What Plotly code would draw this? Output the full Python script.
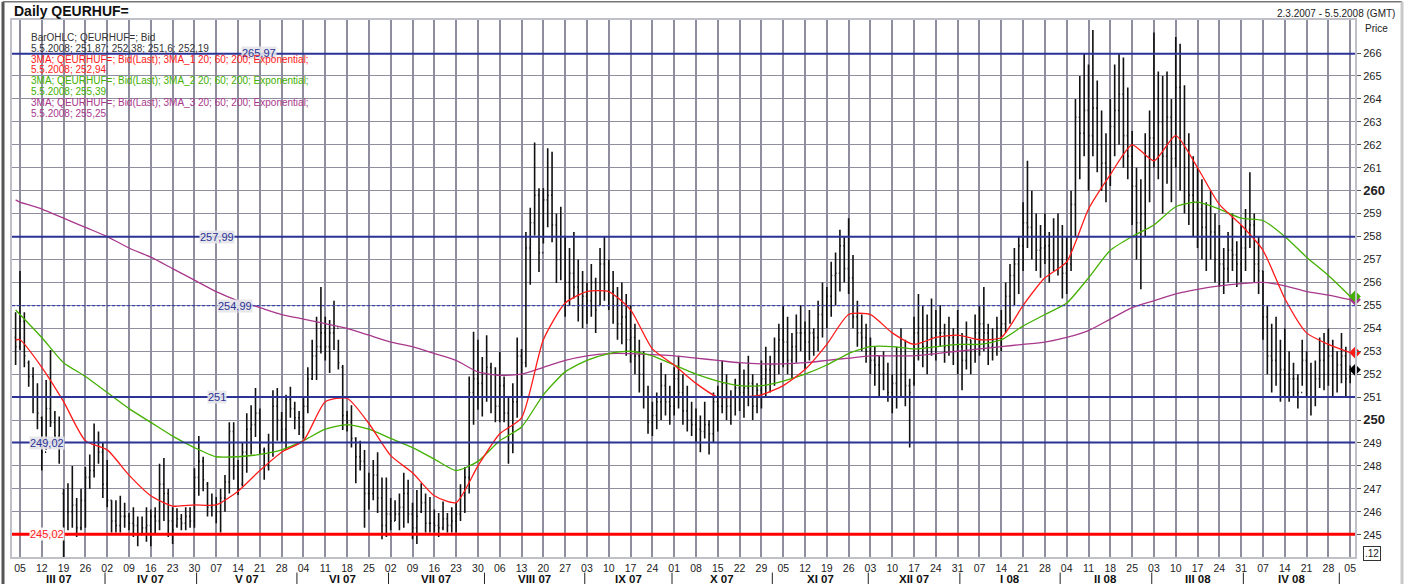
import pandas as pd
import plotly.graph_objects as go

# daily bars, 2.3.2007 - 5.5.2008 (trading days)
highs = [
    254.7, 256.5, 254.7, 252.6, 252.3, 251.6, 250.15, 251.75, 253.05, 250.4,
    250.15, 247.0, 247.25, 248.0, 246.6, 247.0, 247.95, 248.5, 249.85, 249.5,
    249.0, 248.26, 246.5, 246.5, 246.7, 246.4, 245.95, 246.2, 245.8, 245.8,
    246.2, 246.1, 246.2, 248.1, 248.35, 247.0, 246.2, 246.15, 245.9, 246.2,
    246.2, 247.9, 249.3, 248.4, 247.3, 246.8, 246.65, 247.0, 247.6, 249.9,
    249.9, 248.26, 249.0, 250.3, 250.65, 251.4, 250.5, 248.8, 249.4, 251.3,
    251.4, 250.35, 251.1, 251.45, 250.8, 250.4, 250.96, 252.3, 253.5, 254.5,
    255.8, 254.5, 254.36, 255.2, 253.5, 252.4, 250.4, 250.65, 249.25, 249.1,
    248.7, 247.7, 248.26, 248.6, 247.5, 247.5, 246.6, 246.5, 246.8, 247.7,
    247.4, 246.4, 246.95, 247.25, 246.8, 246.65, 246.1, 245.95, 246.45, 245.95,
    246.2, 246.4, 247.2, 247.95, 251.9, 253.85, 253.5, 252.75, 253.7, 252.5,
    252.3, 252.97, 251.9, 251.0, 251.6, 253.6, 253.1, 258.2, 259.25, 262.1,
    260.1, 260.1, 261.85, 261.7, 259.0, 259.3, 258.0, 257.5, 258.2, 257.0,
    256.5, 256.0, 256.8, 256.2, 257.5, 258.0, 257.0, 256.5, 255.8, 256.0,
    255.5, 255.0, 254.2, 253.5, 253.0, 251.5, 250.8, 251.2, 252.5, 252.0,
    251.5, 252.3, 252.8, 252.0, 251.5, 250.8, 250.5, 250.2, 250.8, 250.0,
    251.2, 251.5, 252.6, 252.0, 251.3, 251.8, 252.5, 252.2, 252.8, 252.0,
    251.6, 252.6, 253.2, 252.8, 253.6, 254.2, 255.0, 254.5, 253.8, 254.6,
    255.0, 254.3, 254.8, 254.0, 255.2, 256.0, 255.8, 256.9, 257.3, 258.3,
    258.0, 258.8, 257.2, 255.2, 254.6, 254.2, 253.6, 253.2, 252.8, 253.0,
    252.5, 252.0, 253.2, 254.0, 253.5, 251.8, 254.5, 255.5, 255.0, 254.6,
    255.3, 254.8, 255.0, 254.2, 254.5, 254.0, 254.8, 253.8, 254.3, 253.5,
    254.6, 255.0, 255.8, 254.2, 254.0, 254.5, 254.8, 256.0, 256.8, 257.5,
    258.0, 259.5, 261.3, 260.0, 259.0, 258.5, 259.0, 258.2, 258.8, 259.0,
    258.5, 258.0, 260.0, 264.0, 265.0, 266.0, 265.5, 267.0, 264.8, 263.5,
    262.5, 264.0, 265.5, 266.0, 265.8, 264.5, 262.6, 261.0, 260.5, 262.5,
    263.5, 266.9, 265.2, 265.0, 265.2, 264.0, 266.7, 266.4, 264.6, 262.5,
    261.5, 261.0, 260.5, 259.5, 260.0, 259.0, 258.5, 257.5, 258.2, 259.0,
    257.8, 258.5, 259.2, 260.8, 259.0, 258.0, 256.5, 255.0, 254.2, 254.5,
    253.5, 254.0, 253.0, 252.5, 252.0, 253.5, 253.0, 252.5, 252.6, 253.6,
    253.8, 254.0, 253.5, 253.0, 253.8, 253.2, 252.38,
]
lows = [
    252.4, 253.05, 252.3, 251.45, 250.3, 249.6, 247.8, 248.7, 249.7, 249.0,
    248.1, 244.0, 245.2, 245.3, 244.9, 245.2, 245.3, 247.0, 247.5, 248.1,
    246.6, 246.2, 245.1, 245.1, 245.1, 245.3, 245.2, 244.9, 244.5, 245.05,
    244.7, 244.5, 245.0, 245.2, 245.6, 244.9, 244.6, 245.3, 245.2, 245.2,
    245.3, 245.3, 246.7, 246.9, 245.8, 245.8, 245.5, 245.1, 246.0, 246.8,
    247.4, 246.73, 247.1, 247.7, 248.5, 249.26, 248.5, 247.4, 247.8, 248.4,
    249.1, 249.0, 248.7, 250.1, 249.6, 249.35, 249.2, 250.3, 251.75, 251.75,
    252.9, 252.6, 252.05, 253.05, 252.2, 249.57, 249.5, 248.8, 247.25, 247.8,
    245.3, 246.1, 246.5, 245.95, 244.8, 244.9, 245.2, 245.6, 245.2, 245.3,
    245.5, 244.8, 244.6, 245.95, 245.1, 245.1, 245.1, 244.9, 245.2, 245.1,
    245.1, 245.1, 245.6, 245.95, 246.8, 249.8, 250.45, 250.15, 250.8, 250.3,
    249.9, 249.9, 249.9, 248.1, 248.55, 250.1, 251.0, 252.3, 255.9, 258.05,
    256.45, 257.7, 258.4, 257.75, 255.97, 256.1, 254.5, 255.0, 255.3, 254.3,
    254.0, 254.2, 254.5, 253.8, 255.0, 255.2, 254.8, 254.2, 253.5, 253.3,
    252.8, 252.5, 252.0, 251.2, 250.5, 249.4, 249.3, 249.6, 250.0, 250.2,
    249.8, 250.2, 250.5, 249.8, 249.5, 249.3, 249.0, 248.6, 249.2, 248.5,
    249.0, 249.5, 250.3, 250.0, 249.8, 250.2, 250.4, 250.1, 250.6, 250.0,
    250.3, 250.5, 251.0, 251.2, 251.5, 252.0, 252.3, 252.0, 251.8, 252.5,
    253.0, 252.2, 252.6, 252.8, 253.0, 253.6, 254.0, 254.5, 255.0, 255.6,
    256.0, 255.5, 254.0, 253.2, 253.0, 252.5, 252.0, 251.5, 251.0, 251.3,
    250.8, 250.3, 250.5, 251.0, 250.6, 248.8, 251.5, 252.6, 252.3, 252.0,
    252.8, 252.6, 253.2, 252.5, 252.8, 252.4, 252.0, 251.3, 252.2, 252.0,
    252.5, 252.8, 253.0, 252.4, 252.6, 252.8, 253.0, 253.8, 254.2, 255.0,
    255.5, 256.5, 257.5, 257.0, 256.5, 256.2, 256.8, 256.0, 256.5, 256.3,
    255.3, 255.5, 256.5, 258.0, 260.5, 261.5, 260.0, 261.5, 260.8, 260.0,
    259.5, 260.2, 261.5, 262.0, 261.0, 260.5, 258.5, 257.0, 255.7, 258.0,
    259.5, 261.0, 260.5, 259.0, 260.3, 259.5, 261.0, 260.0, 259.0, 258.5,
    258.0, 257.5, 257.0, 256.5, 257.0, 256.0, 255.8, 255.5, 256.0, 256.5,
    255.8, 256.0, 256.5, 257.5, 256.0, 255.5, 253.5, 252.0, 251.2, 251.5,
    250.8, 251.0, 250.8, 251.0, 250.5, 251.5, 251.0, 250.2, 250.6, 251.4,
    251.3, 251.5, 251.0, 251.2, 251.6, 251.0, 251.6,
]
closes = [
    253.2, 254.3, 252.8, 251.9, 251.0, 250.3, 248.6, 250.5, 249.9, 249.3,
    248.8, 245.0, 246.0, 246.3, 245.3, 246.5, 247.5, 247.8, 249.0, 248.6,
    247.2, 246.5, 245.6, 245.4, 245.8, 245.8, 245.5, 245.4, 245.0, 245.3,
    245.4, 245.8, 245.6, 247.2, 246.8, 245.6, 245.2, 245.7, 245.5, 245.8,
    245.6, 247.5, 248.2, 247.4, 246.2, 246.3, 246.0, 246.6, 247.3, 249.5,
    248.0, 247.0, 248.6, 249.6, 249.8, 250.3, 249.0, 248.0, 249.0, 250.6,
    250.0, 249.6, 250.9, 250.5, 250.1, 249.7, 250.6, 251.8, 252.8, 253.2,
    253.8, 253.2, 253.8, 254.0, 252.5, 250.2, 249.9, 249.2, 248.4, 248.2,
    246.8, 246.8, 247.6, 246.6, 245.4, 245.9, 245.6, 245.9, 246.2, 246.8,
    245.9, 245.3, 245.8, 246.4, 245.5, 245.5, 245.4, 245.3, 245.7, 245.4,
    245.6, 245.9, 246.7, 247.5, 251.2, 251.8, 251.6, 251.0, 252.3, 251.0,
    250.6, 251.5, 250.3, 249.0, 250.8, 252.8, 252.5, 257.5, 258.6, 259.8,
    257.3, 259.6, 259.8, 258.5, 257.0, 258.0, 256.0, 256.4, 255.8, 255.0,
    255.4, 255.2, 256.0, 254.8, 256.8, 256.0, 255.6, 255.0, 254.2, 254.5,
    253.5, 253.6, 252.8, 252.0, 251.0, 249.9, 250.2, 250.8, 251.5, 250.8,
    250.6, 251.8, 251.2, 250.4, 250.0, 249.8, 249.6, 249.5, 249.8, 249.4,
    250.8, 250.6, 251.6, 250.6, 251.0, 251.4, 251.2, 251.4, 251.6, 250.6,
    251.3, 251.8, 252.2, 252.4, 253.0, 253.5, 253.4, 252.6, 253.2, 253.8,
    253.8, 253.4, 253.8, 253.6, 254.6, 255.0, 255.4, 256.3, 256.4, 257.6,
    256.6, 256.2, 254.5, 253.8, 253.6, 253.0, 252.6, 252.4, 252.0, 252.0,
    251.2, 251.6, 252.8, 252.0, 251.5, 251.2, 253.8, 254.0, 253.2, 254.0,
    253.6, 253.8, 253.8, 253.2, 253.6, 253.0, 253.2, 252.6, 253.5, 253.0,
    253.8, 254.2, 253.8, 253.2, 253.5, 254.0, 254.2, 255.4, 256.3, 256.8,
    257.6, 258.6, 258.4, 258.0, 257.4, 257.5, 257.6, 257.0, 258.0, 257.0,
    256.4, 256.8, 259.4, 263.2, 262.5, 263.5, 262.4, 263.6, 262.0, 261.2,
    261.0, 262.8, 263.5, 264.2, 262.4, 261.5, 260.2, 258.6, 259.0, 261.5,
    262.3, 264.0, 263.0, 261.5, 263.2, 261.4, 264.5, 262.0, 261.0, 259.8,
    259.5, 259.2, 258.4, 258.0, 258.2, 257.0, 256.8, 256.6, 257.4, 257.2,
    256.8, 257.5, 258.3, 258.5, 256.8, 256.5, 254.5, 252.8, 252.6, 252.0,
    252.2, 252.0, 251.8, 251.8, 251.2, 252.6, 252.0, 251.0, 251.8, 252.6,
    252.0, 252.8, 252.0, 252.4, 252.8, 251.8, 252.19,
]
opens = [
    253.6, 253.2, 254.3, 252.5, 251.9, 251.0, 250.1, 248.6, 250.5, 249.9,
    249.3, 246.8, 245.0, 246.0, 246.3, 245.3, 246.5, 247.5, 247.8, 249.0,
    248.6, 247.2, 246.5, 245.6, 245.4, 245.8, 245.8, 245.5, 245.4, 245.0,
    245.3, 245.4, 245.8, 245.6, 247.2, 246.8, 245.6, 245.4, 245.7, 245.5,
    245.8, 245.6, 247.5, 248.2, 247.2, 246.2, 246.3, 246.0, 246.6, 247.3,
    249.5, 248.0, 247.2, 248.6, 249.6, 249.8, 250.3, 248.7, 248.0, 249.0,
    250.6, 250.0, 249.6, 250.9, 250.5, 250.1, 249.7, 250.6, 251.8, 252.8,
    253.2, 253.8, 253.2, 253.8, 254.0, 252.3, 250.2, 249.9, 249.2, 248.4,
    248.2, 246.8, 246.8, 247.6, 246.6, 245.4, 245.9, 245.6, 245.9, 246.2,
    246.8, 245.9, 245.3, 246.0, 246.4, 245.5, 245.5, 245.4, 245.3, 245.7,
    245.4, 245.6, 245.9, 246.7, 247.5, 251.2, 251.8, 251.6, 251.0, 252.3,
    251.0, 250.6, 251.5, 250.3, 249.0, 250.8, 252.8, 252.5, 257.5, 258.6,
    259.8, 257.3, 259.6, 259.8, 258.5, 257.0, 258.0, 256.0, 256.4, 255.8,
    255.0, 255.4, 255.2, 256.0, 255.0, 256.8, 256.0, 255.6, 255.0, 254.2,
    254.5, 253.5, 253.6, 252.8, 252.0, 251.0, 249.9, 250.2, 250.8, 251.5,
    250.8, 250.6, 251.8, 251.2, 250.4, 250.0, 249.8, 249.6, 249.5, 249.8,
    249.4, 250.8, 250.6, 251.6, 250.6, 251.0, 251.4, 251.2, 251.4, 251.6,
    250.6, 251.3, 251.8, 252.2, 252.4, 253.0, 253.5, 253.4, 252.6, 253.2,
    253.8, 253.8, 253.4, 253.8, 253.6, 254.6, 255.0, 255.4, 256.3, 256.4,
    257.6, 256.6, 256.2, 254.5, 253.8, 253.6, 253.0, 252.6, 252.4, 252.0,
    252.0, 251.2, 251.6, 252.8, 252.0, 251.5, 251.6, 253.8, 254.0, 253.2,
    254.0, 253.6, 253.8, 253.8, 253.2, 253.6, 253.0, 253.2, 252.6, 253.5,
    253.0, 253.8, 254.2, 253.8, 253.2, 253.5, 254.0, 254.2, 255.4, 256.3,
    256.8, 257.6, 258.6, 258.4, 258.0, 257.4, 257.5, 257.6, 257.0, 258.0,
    257.0, 256.4, 256.8, 259.4, 263.2, 262.5, 263.5, 262.4, 263.6, 262.0,
    261.2, 261.0, 262.8, 263.5, 264.2, 262.4, 261.5, 260.2, 258.6, 259.0,
    261.5, 262.3, 264.0, 263.0, 261.5, 263.2, 261.4, 264.5, 262.0, 261.0,
    259.8, 259.5, 259.2, 258.4, 258.0, 258.2, 257.0, 256.8, 256.6, 257.4,
    257.2, 256.8, 257.5, 258.3, 258.5, 256.8, 256.5, 254.5, 252.8, 252.6,
    252.0, 252.2, 252.0, 251.8, 251.8, 251.2, 252.6, 252.0, 251.0, 251.8,
    252.6, 252.0, 252.8, 252.0, 252.4, 252.8, 251.87,
]

# exponential moving averages read weekly (trading-day index -> value)
ma_idx = [0] + [1 + 5 * k for k in range(62)]
ma20 = [
    253.5, 253.5, 252.3, 250.8, 249.1, 248.7, 247.6, 246.7, 246.25, 246.3, 246.3,
    246.9, 247.8, 248.6, 249.1, 250.8, 250.95, 249.85, 248.45, 247.7, 246.7,
    246.4, 248.0, 249.4, 250.1, 253.5, 255.1, 255.6, 255.6, 254.8, 253.1,
    252.4, 251.6, 251.0, 251.0, 251.1, 251.5, 252.2, 253.3, 254.6, 254.6,
    253.8, 253.3, 253.6, 253.7, 253.5, 253.6, 255.0, 256.2, 256.9, 259.2,
    260.7, 262.0, 261.3, 262.4, 261.0, 259.4, 258.5, 257.4, 255.3, 253.8,
    253.3, 252.94,
]
ma60 = [
    254.8, 254.6, 253.6, 252.5, 251.9, 251.2, 250.5, 249.9, 249.3, 248.8, 248.4,
    248.4, 248.5, 248.7, 249.1, 249.6, 249.8, 249.6, 249.2, 248.8, 248.3,
    247.8, 248.2, 249.1, 249.7, 251.1, 252.1, 252.6, 252.9, 253.0, 252.8,
    252.4, 252.0, 251.7, 251.5, 251.5, 251.7, 252.0, 252.4, 252.9, 253.2,
    253.2, 253.1, 253.2, 253.3, 253.3, 253.5, 254.1, 254.6, 255.1, 256.2,
    257.4, 258.0, 258.5, 259.3, 259.5, 259.2, 258.8, 258.7, 258.0, 257.1,
    256.3, 255.39,
]
ma200 = [
    259.6, 259.5, 259.2, 258.8, 258.4, 258.0, 257.5, 257.1, 256.6, 256.1, 255.6,
    255.2, 254.9, 254.6, 254.4, 254.2, 254.0, 253.7, 253.4, 253.2, 252.9,
    252.6, 252.1, 251.95, 252.0, 252.3, 252.6, 252.8, 252.9, 252.9, 252.85,
    252.8, 252.7, 252.6, 252.5, 252.45, 252.45, 252.5, 252.6, 252.7, 252.8,
    252.8, 252.8, 252.9, 253.0, 253.1, 253.2, 253.3, 253.4, 253.6, 253.9,
    254.4, 254.9, 255.2, 255.5, 255.7, 255.85, 255.95, 256.0, 255.85, 255.6,
    255.45, 255.25,
]

# horizontal study lines
blue_levels = [265.97, 257.99, 251.0, 249.02]
blue_labels = ["265,97", "257,99", "251", "249,02"]
dash_level, dash_label = 254.99, "254,99"
red_level, red_label = 245.02, "245,02"

month_labels = ["III 07", "IV 07", "V 07", "VI 07", "VII 07", "VIII 07", "IX 07",
                "X 07", "XI 07", "XII 07", "I 08", "II 08", "III 08", "IV 08"]

days = pd.bdate_range("2007-03-02", "2008-05-05")
x = list(range(len(days)))
mondays = [i for i, d in enumerate(days) if d.weekday() == 0]
week_text = [days[i].strftime("%d") for i in mondays]
month_starts = [i for i in range(1, len(days)) if days[i].month != days[i - 1].month]

RED, GREEN, PURPLE, NAVY = "#ff1a1a", "#44b000", "#a8388c", "#2b3394"
GRID = "#8e8e9e"
FONT = "Arial, Liberation Sans, sans-serif"

fig = go.Figure()
fig.add_trace(go.Ohlc(
    x=x, open=opens, high=highs, low=lows, close=closes,
    increasing_line_color="#111111", decreasing_line_color="#111111",
    line_width=1.6, tickwidth=0.25, hoverinfo="skip",
))
for vals, col in [(ma200, PURPLE), (ma60, GREEN), (ma20, RED)]:
    fig.add_trace(go.Scatter(x=ma_idx, y=vals, mode="lines",
                             line=dict(color=col, width=1.3, shape="spline", smoothing=0.6),
                             hoverinfo="skip"))

# end markers on the price axis
x_end = len(days) + 0.1
for val, col in [(ma200[-1], PURPLE), (ma60[-1], GREEN), (ma20[-1], RED), (closes[-1], "#000000")]:
    fig.add_trace(go.Scatter(x=[x_end], y=[val], mode="markers", cliponaxis=False,
                             marker=dict(symbol="diamond", size=9, color=col), hoverinfo="skip"))

for lvl in blue_levels:
    fig.add_hline(y=lvl, line=dict(color=NAVY, width=2), layer="above")
fig.add_hline(y=dash_level, line=dict(color="#3a44b0", width=1.4, dash="3px,2px"), layer="above")
fig.add_hline(y=red_level, line=dict(color="#ff0000", width=3), layer="above")

label_bg = "rgba(228,228,234,0.9)"
label_pos = {"265,97": 0.184, "257,99": 0.153, "251": 0.153, "249,02": 0.0125}
for lvl, txt in zip(blue_levels, blue_labels):
    fig.add_annotation(x=label_pos[txt], xref="paper", y=lvl, yref="y", text=txt,
                       showarrow=False, xanchor="left" if txt == "249,02" else "center",
                       yshift=1 if txt == "265,97" else 0,
                       font=dict(color=NAVY, size=11, family=FONT), bgcolor=label_bg, borderpad=0)
fig.add_annotation(x=0.153, xref="paper", y=dash_level, yref="y", text=dash_label, showarrow=False,
                   font=dict(color=NAVY, size=11, family=FONT), bgcolor=label_bg, borderpad=0)
fig.add_annotation(x=0.0125, xref="paper", y=red_level, yref="y", text=red_label, showarrow=False,
                   xanchor="left", font=dict(color="#ff2020", size=11, family=FONT),
                   bgcolor="rgba(255,255,255,0.9)", borderpad=0)

# info block
info = [
    ("BarOHLC; QEURHUF=; Bid", "#333333"),
    ("5.5.2008; 251,87; 252,38; 251,6; 252,19", "#333333"),
    ("3MA; QEURHUF=; Bid(Last); 3MA_1 20; 60; 200; Exponential;", RED),
    ("5.5.2008; 252,94", RED),
    ("3MA; QEURHUF=; Bid(Last); 3MA_2 20; 60; 200; Exponential;", GREEN),
    ("5.5.2008; 255,39", GREEN),
    ("3MA; QEURHUF=; Bid(Last); 3MA_3 20; 60; 200; Exponential;", PURPLE),
    ("5.5.2008; 255,25", PURPLE),
]
for n, (txt, col) in enumerate(info):
    fig.add_annotation(x=0.013, xref="paper", y=(557 - (37.5 + n * 10.8)) / 537, yref="paper",
                       text=txt, showarrow=False, xanchor="left", yanchor="middle",
                       font=dict(color=col, size=10, family=FONT))

fig.add_annotation(x=0.0, xref="paper", y=1.0175, yref="paper", text="<b>Daily QEURHUF=</b>",
                   showarrow=False, xanchor="left", yanchor="middle",
                   font=dict(size=14, color="#111111", family=FONT))
fig.add_annotation(x=1.0313, xref="paper", y=1.0112, yref="paper", text="2.3.2007 - 5.5.2008 (GMT)",
                   showarrow=False, xanchor="right", yanchor="middle",
                   font=dict(size=10, color="#222222", family=FONT))
fig.add_annotation(x=1.006, xref="paper", y=0.985, yref="paper", text="Price", showarrow=False,
                   xanchor="left", yanchor="middle", font=dict(size=10, color="#222222", family=FONT))
fig.add_annotation(x=1.006, xref="paper", y=0.0074, yref="paper", text=".12", showarrow=False,
                   xanchor="left", yanchor="middle", bordercolor="#333333", borderwidth=1, borderpad=1,
                   font=dict(size=10, color="#222222", family=FONT))

# month row
bounds = [-0.5] + [m - 0.5 for m in month_starts]
for n, lab in enumerate(month_labels):
    fig.add_annotation(x=(bounds[n] + bounds[n + 1]) / 2, xref="x", y=-0.0415, yref="paper",
                       text=f"<b>{lab}</b>", showarrow=False, yanchor="middle", borderpad=0,
                       font=dict(size=11.5, color="#111111", family=FONT))
for b in bounds[1:]:
    fig.add_shape(type="line", x0=b, x1=b, xref="x", y0=-0.029, y1=-0.051, yref="paper",
                  line=dict(color="#222222", width=1))

# outer frame
fig.add_shape(type="line", xref="paper", yref="paper", x0=-0.0067, x1=-0.0067, y0=-0.06, y1=1.034,
              line=dict(color="#555555", width=3))
fig.add_shape(type="line", xref="paper", yref="paper", x0=-0.0067, x1=1.035, y0=1.034, y1=1.034,
              line=dict(color="#777777", width=1.5))
fig.add_shape(type="line", xref="paper", yref="paper", x0=1.035, x1=1.035, y0=-0.06, y1=1.034,
              line=dict(color="#c8c8c8", width=3))

y_ticks = list(range(245, 267))
y_text = [f"<span style='font-size:13px'><b>{v}</b></span>" if v % 10 == 0 else str(v) for v in y_ticks]

fig.update_layout(
    width=1409, height=584,
    margin=dict(l=12, r=54, t=20, b=27),
    paper_bgcolor="white", plot_bgcolor="white",
    showlegend=False,
    font=dict(family=FONT, color="#222222"),
    xaxis=dict(
        range=[-0.83, 307.1], tickvals=mondays, ticktext=week_text, automargin=False,
        showgrid=True, gridcolor=GRID, gridwidth=2, zeroline=False,
        rangeslider=dict(visible=False), ticks="", tickfont=dict(size=10.5, family=FONT),
        showline=True, linecolor="#c0c0c8", linewidth=2, mirror=True,
    ),
    yaxis=dict(
        range=[244.03, 267.44], side="right", tickvals=y_ticks, ticktext=y_text, automargin=False,
        showgrid=True, gridcolor=GRID, gridwidth=1, zeroline=False,
        ticks="outside", ticklen=4, tickcolor="#555555", tickfont=dict(size=11, family=FONT),
        showline=True, linecolor="#c0c0c8", linewidth=2, mirror=True,
    ),
)

fig.write_html("out.html", config={"displayModeBar": False},
               post_script="document.body.style.margin='0';")
